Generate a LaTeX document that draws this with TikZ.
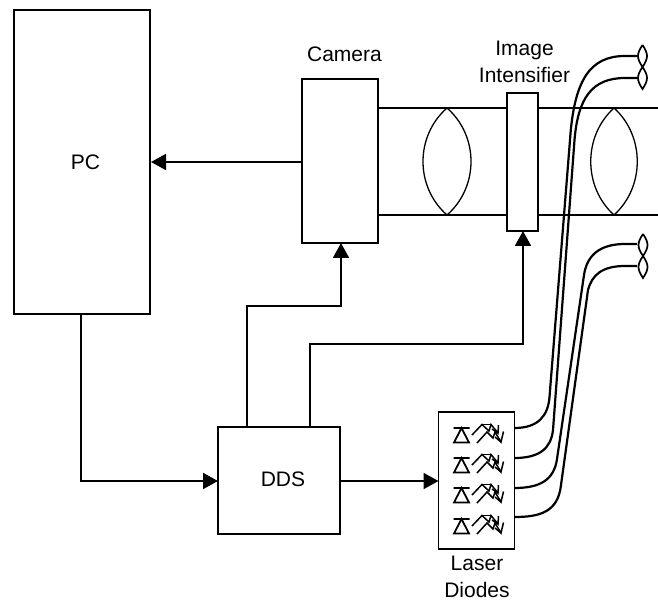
\documentclass[tikz,border=0pt]{standalone}
\usepackage{fontspec}
\setmainfont{Liberation Sans}
\usetikzlibrary{arrows.meta}
\tikzset{
 x=1pt,y=-1pt,
 boxn/.style={draw,line width=1.9pt,fill=white,inner sep=0pt,outer sep=0pt,anchor=north west},
 lbl/.style={font=\fontsize{21}{27.5}\selectfont,align=center,inner sep=0pt},
 conn/.style={line width=1.8pt,-{Triangle[length=15pt,width=16pt]}},
 fibre/.style={line width=2.2pt},
 beam/.style={line width=1.6pt},
 lens/.style={line width=1.3pt},
 twist/.style={line width=1.7pt},
 emit/.style={line width=1.5pt},
}
\newcommand{\diode}[1]{%
 \begin{scope}[shift={(0,#1)}]
  \draw[line width=1.8pt] (453.5,428) -- (469.5,428) (454,442.5) -- (469,442.5) -- (461.5,428) -- cycle;
  \draw[emit] (472,435) -- (482,424.5) -- (489,431) -- (491,424.5) -- (498,433) -- (498.5,425);
  \draw[emit] (482,424.5) -- (491,424.5);
  \draw[emit] (498,433) -- (492,429);
  \draw[emit] (477,443) -- (487,432) -- (493,438) -- (495,432) -- (501,442) -- (503.5,431.5);
  \draw[emit] (501,442) -- (495,437);
 \end{scope}}
\begin{document}
\begin{tikzpicture}
\useasboundingbox (0,0) rectangle (658,601);
\fill[white] (0,0) rectangle (658,601);
% beams
\coordinate (b1l) at (378,108); \coordinate (b1r) at (658,108);
\coordinate (b2l) at (378,215); \coordinate (b2r) at (658,215);
\draw[beam] (b1l) -- (b1r) (b2l) -- (b2r);
% lenses
\draw[lens] (447,108) .. controls (415,136) and (415,187) .. (447,215) .. controls (479,187) and (479,136) .. (447,108);
\draw[lens] (614,108) .. controls (583,136) and (583,187) .. (614,215) .. controls (645,187) and (645,136) .. (614,108);
% boxes
\node[boxn,minimum width=136pt,minimum height=304pt] (pc) at (14,10) {};
\node[lbl] at (85.5,162) {PC};
\node[boxn,minimum width=76pt,minimum height=164pt] (cam) at (302,79) {};
\node[lbl] at (344.5,54) {Camera};
\node[boxn,minimum width=31pt,minimum height=138pt] (ii) at (507,93) {};
\node[lbl] at (524.5,62) {Image\\Intensifier};
\node[boxn,minimum width=122pt,minimum height=107pt] (dds) at (218,427) {};
\node[lbl] at (283,479) {DDS};
\node[boxn,minimum width=76pt,minimum height=137pt] (ld) at (438.5,412) {};
\node[lbl] at (477,577) {Laser\\Diodes};
% connectors
\coordinate (pcs) at (81,314);
\draw[conn] (cam.west |- 0,162) -- (151,162);
\draw[conn] (pcs) -- (81,481) -- (dds.west |- 0,481);
\draw[conn] (247,427) -- (247,306) -- (341,306) -- (341,243);
\draw[conn] (310,427) -- (310,344) -- (523,344) -- (523,231);
\draw[conn] (dds.east |- 0,481) -- (ld.west |- 0,481);
% diodes
\diode{0}\diode{30}\diode{60}\diode{91}
% fibres
\coordinate (l1) at (514.5,428); \coordinate (l2) at (514.5,458); \coordinate (l3) at (514.5,488); \coordinate (l4) at (514.5,517);
\draw[fibre] (l1) .. controls (538,428) and (548,416) .. (549.5,397) -- (570,140) .. controls (574,80) and (590,56) .. (625,56) -- (637,56);
\draw[fibre] (l2) .. controls (540,458) and (551,448) .. (553,430) -- (574.5,140) .. controls (578,98) and (592,78) .. (625,78) -- (637,78);
\draw[fibre] (l3) .. controls (540,488) and (554,480) .. (557,459) -- (584,275) .. controls (587,255) and (600,244) .. (625,244) -- (637,244);
\draw[fibre] (l4) .. controls (540,517) and (558,512) .. (561,485) -- (588,290) .. controls (592,275) and (602,266) .. (625,266) -- (637,266);
% twists
\draw[twist] (642.5,45) .. controls (636.5,54) and (636.5,58) .. (642.5,67) .. controls (648.5,76) and (648.5,80) .. (642.5,89) .. controls (636.5,80) and (636.5,76) .. (642.5,67) .. controls (648.5,58) and (648.5,54) .. (642.5,45);
\draw[twist] (643,234) .. controls (637,243) and (637,247) .. (643,256) .. controls (649,265) and (649,269) .. (643,278) .. controls (637,269) and (637,265) .. (643,256) .. controls (649,247) and (649,243) .. (643,234);
\end{tikzpicture}
\end{document}
